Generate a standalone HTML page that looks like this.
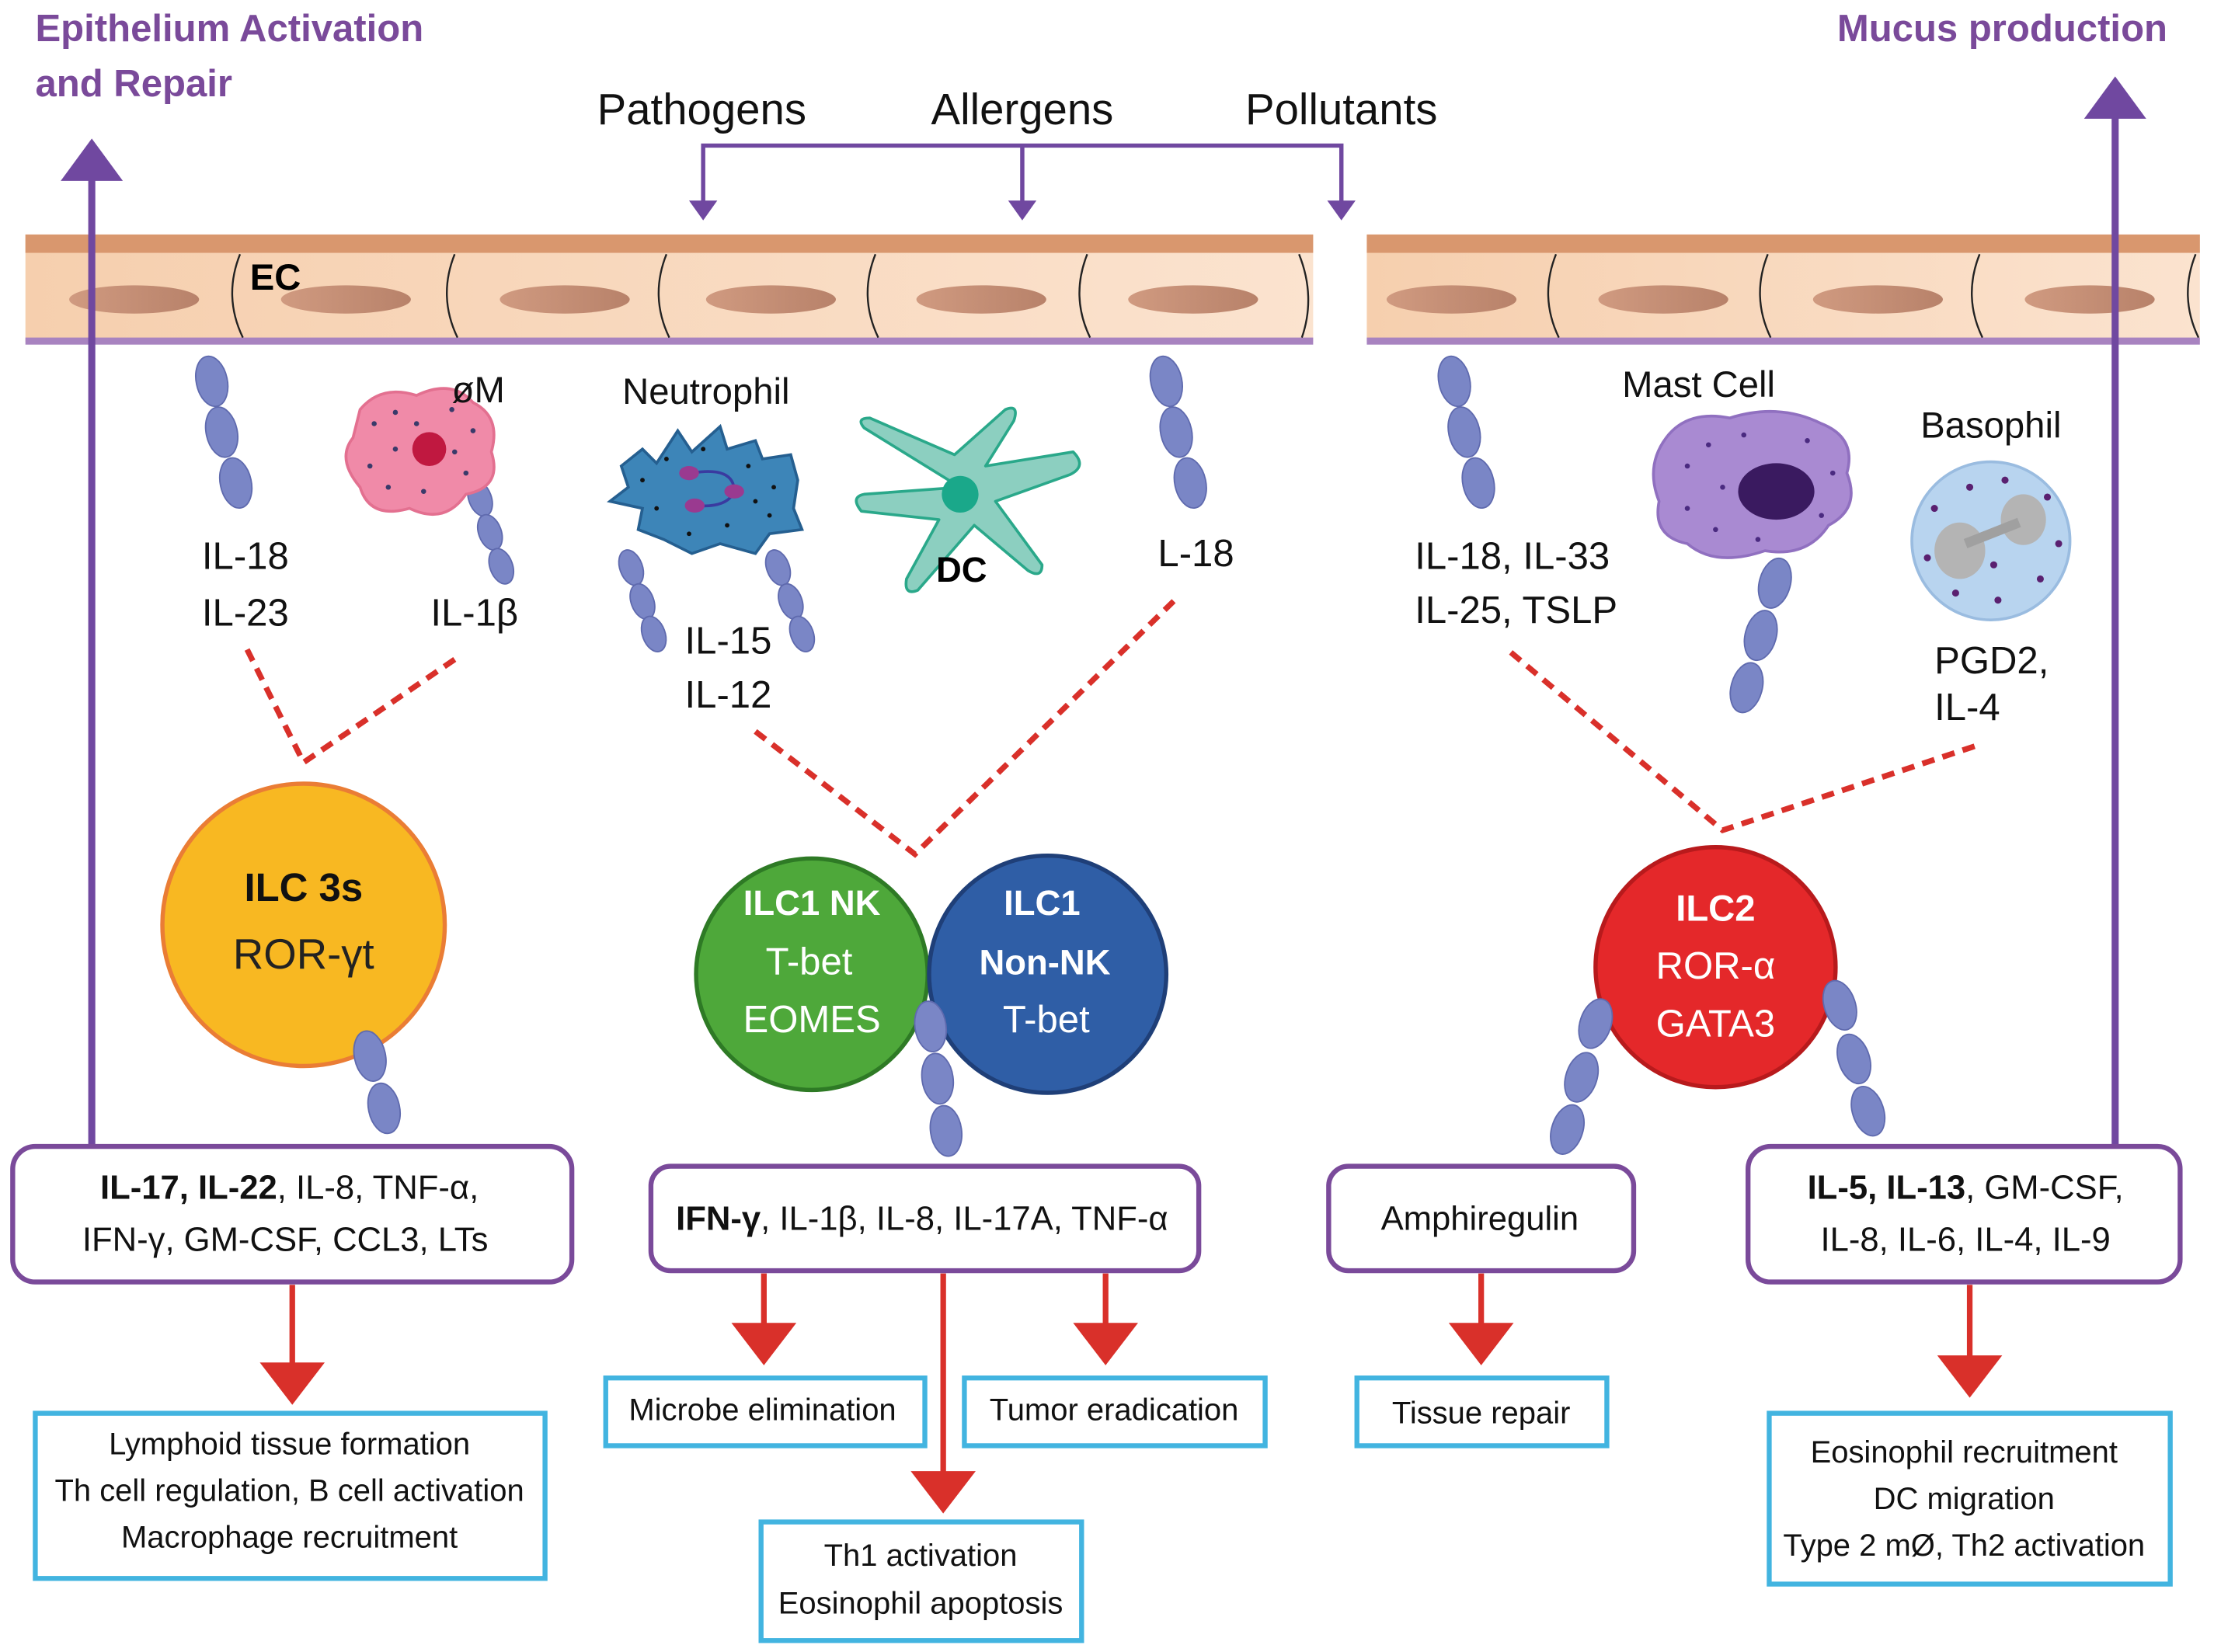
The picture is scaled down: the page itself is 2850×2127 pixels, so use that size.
<!DOCTYPE html>
<html><head><meta charset="utf-8"><style>html,body{margin:0;padding:0;background:#fff}svg{display:block}</style></head><body>
<svg width="2850" height="2127" viewBox="0 0 1568 1170" xmlns="http://www.w3.org/2000/svg" font-family="'Liberation Sans',sans-serif">
<defs>
<linearGradient id="cell" x1="0" y1="0" x2="1" y2="0"><stop offset="0" stop-color="#f6cfae"/><stop offset="1" stop-color="#fbe3cf"/></linearGradient>
<linearGradient id="nuc" x1="0" y1="0" x2="1" y2="0"><stop offset="0" stop-color="#d09a80"/><stop offset="1" stop-color="#b8826a"/></linearGradient>
</defs>
<rect width="1568" height="1170" fill="#fff"/>
<rect x="18" y="166" width="912" height="76" fill="url(#cell)"/>
<rect x="18" y="166" width="912" height="13" fill="#d9976e"/>
<rect x="18" y="239" width="912" height="5" fill="#a883c0"/>
<rect x="968" y="166" width="590" height="76" fill="url(#cell)"/>
<rect x="968" y="166" width="590" height="13" fill="#d9976e"/>
<rect x="968" y="239" width="590" height="5" fill="#a883c0"/>
<g stroke="#222" stroke-width="1.3" fill="none">
<path d="M170 180 Q158 210 172 239"/><path d="M322 180 Q310 210 324 239"/><path d="M472 180 Q460 210 474 239"/><path d="M620 180 Q608 210 622 239"/><path d="M770 180 Q758 210 772 239"/><path d="M920 180 Q932 210 922 239"/>
<path d="M1102 180 Q1090 210 1104 239"/><path d="M1252 180 Q1240 210 1254 239"/><path d="M1402 180 Q1390 210 1404 239"/><path d="M1555 180 Q1543 210 1557 239"/>
</g>
<g fill="url(#nuc)">
<ellipse cx="95" cy="212" rx="46" ry="10"/><ellipse cx="245" cy="212" rx="46" ry="10"/><ellipse cx="400" cy="212" rx="46" ry="10"/><ellipse cx="546" cy="212" rx="46" ry="10"/><ellipse cx="695" cy="212" rx="46" ry="10"/><ellipse cx="845" cy="212" rx="46" ry="10"/>
<ellipse cx="1028" cy="212" rx="46" ry="10"/><ellipse cx="1178" cy="212" rx="46" ry="10"/><ellipse cx="1330" cy="212" rx="46" ry="10"/><ellipse cx="1480" cy="212" rx="46" ry="10"/>
</g>
<text x="177" y="205" font-size="26" font-weight="bold" fill="#000">EC</text>
<g fill="#7a4a9a" font-weight="bold" font-size="27">
<text x="25" y="29">Epithelium Activation</text><text x="25" y="68">and Repair</text>
<text x="1535" y="29" text-anchor="end">Mucus production</text>
</g>
<g stroke="#7048a0" stroke-width="5" fill="#7048a0">
<line x1="65" y1="812" x2="65" y2="125"/><line x1="1498" y1="812" x2="1498" y2="80"/>
</g>
<polygon points="43,128 65,98 87,128" fill="#7048a0"/>
<polygon points="1476,84 1498,54 1520,84" fill="#7048a0"/>
<g font-size="31" fill="#111" text-anchor="middle"><text x="497" y="88">Pathogens</text><text x="724" y="88">Allergens</text><text x="950" y="88">Pollutants</text></g>
<g stroke="#7048a0" stroke-width="3" fill="none"><path d="M498 145 V103 H950 V145"/><line x1="724" y1="103" x2="724" y2="145"/></g>
<g fill="#7048a0"><polygon points="488,142 498,156 508,142"/><polygon points="714,142 724,156 734,142"/><polygon points="940,142 950,156 960,142"/></g>
<g fill="#7a86c6" stroke="#5f6aae" stroke-width="1">
<ellipse cx="150" cy="270" rx="11" ry="18" transform="rotate(-12 150 270)"/><ellipse cx="157" cy="306" rx="11" ry="18" transform="rotate(-12 157 306)"/><ellipse cx="167" cy="342" rx="11" ry="18" transform="rotate(-12 167 342)"/>
<ellipse cx="340" cy="353" rx="8" ry="13" transform="rotate(-20 340 353)"/><ellipse cx="347" cy="377" rx="8" ry="13" transform="rotate(-20 347 377)"/><ellipse cx="355" cy="401" rx="8" ry="13" transform="rotate(-20 355 401)"/>
<ellipse cx="447" cy="402" rx="8" ry="13" transform="rotate(-20 447 402)"/><ellipse cx="455" cy="426" rx="8" ry="13" transform="rotate(-20 455 426)"/><ellipse cx="463" cy="449" rx="8" ry="13" transform="rotate(-20 463 449)"/>
<ellipse cx="551" cy="402" rx="8" ry="13" transform="rotate(-20 551 402)"/><ellipse cx="560" cy="426" rx="8" ry="13" transform="rotate(-20 560 426)"/><ellipse cx="568" cy="449" rx="8" ry="13" transform="rotate(-20 568 449)"/>
<ellipse cx="826" cy="270" rx="11" ry="18" transform="rotate(-12 826 270)"/><ellipse cx="833" cy="306" rx="11" ry="18" transform="rotate(-12 833 306)"/><ellipse cx="843" cy="342" rx="11" ry="18" transform="rotate(-12 843 342)"/>
<ellipse cx="1030" cy="270" rx="11" ry="18" transform="rotate(-12 1030 270)"/><ellipse cx="1037" cy="306" rx="11" ry="18" transform="rotate(-12 1037 306)"/><ellipse cx="1047" cy="342" rx="11" ry="18" transform="rotate(-12 1047 342)"/>
<ellipse cx="1257" cy="413" rx="11" ry="18" transform="rotate(15 1257 413)"/><ellipse cx="1247" cy="450" rx="11" ry="18" transform="rotate(15 1247 450)"/><ellipse cx="1237" cy="487" rx="11" ry="18" transform="rotate(15 1237 487)"/>
</g>
<path d="M255 290 Q270 272 295 280 Q320 268 335 285 Q355 295 348 320 Q356 345 330 350 Q315 372 290 360 Q262 368 255 345 Q238 325 250 310 Z" fill="#f08aa8" stroke="#e37090" stroke-width="2"/>
<circle cx="304" cy="318" r="12" fill="#c01840"/>
<g fill="#3a3a6a"><circle cx="265" cy="300" r="1.8"/><circle cx="280" cy="292" r="1.8"/><circle cx="320" cy="290" r="1.8"/><circle cx="335" cy="305" r="1.8"/><circle cx="262" cy="330" r="1.8"/><circle cx="275" cy="345" r="1.8"/><circle cx="300" cy="348" r="1.8"/><circle cx="330" cy="335" r="1.8"/><circle cx="280" cy="318" r="1.8"/><circle cx="322" cy="320" r="1.8"/><circle cx="295" cy="300" r="1.8"/></g>
<text x="320" y="285" font-size="26" fill="#111">øM</text>
<path d="M440 330 L455 318 L465 328 L480 305 L490 320 L510 302 L515 318 L535 312 L540 325 L560 322 L565 340 L562 360 L568 375 L545 378 L535 392 L510 385 L490 392 L470 382 L452 375 L455 360 L432 355 L445 345 Z" fill="#3d85b8" stroke="#255f90" stroke-width="2"/>
<path d="M490 335 Q520 330 520 348 Q515 360 492 358" stroke="#3a3aa0" stroke-width="2" fill="none"/>
<g fill="#9a3a90"><ellipse cx="488" cy="335" rx="7" ry="5"/><ellipse cx="520" cy="348" rx="7" ry="5"/><ellipse cx="492" cy="358" rx="7" ry="5"/></g>
<g fill="#111"><circle cx="455" cy="340" r="1.6"/><circle cx="472" cy="325" r="1.6"/><circle cx="498" cy="318" r="1.6"/><circle cx="530" cy="330" r="1.6"/><circle cx="548" cy="345" r="1.6"/><circle cx="545" cy="365" r="1.6"/><circle cx="515" cy="372" r="1.6"/><circle cx="488" cy="378" r="1.6"/><circle cx="465" cy="360" r="1.6"/><circle cx="535" cy="355" r="1.6"/></g>
<text x="500" y="286" font-size="26" fill="#111" text-anchor="middle">Neutrophil</text>
<g fill="#8ccfc0" stroke="#2aa88a" stroke-width="2" stroke-linejoin="round">
<path d="M680 345 L612 303 Q606 296 616 296 L676 322 L712 290 Q722 286 718 298 L698 330 L760 320 Q770 330 758 336 L705 355 L738 400 Q738 410 728 404 L690 372 L650 418 Q640 422 642 410 L665 368 L610 362 Q602 352 612 350 Z"/>
</g>
<circle cx="680" cy="350" r="13" fill="#1aa88a"/>
<text x="681" y="412" font-size="25" font-weight="bold" fill="#000" text-anchor="middle">DC</text>
<path d="M1180 310 Q1195 290 1225 296 Q1260 285 1290 300 Q1315 310 1308 335 Q1318 360 1295 372 Q1280 395 1250 390 Q1215 402 1195 385 Q1170 380 1175 355 Q1165 330 1180 310 Z" fill="#a98ad2" stroke="#9070c0" stroke-width="2"/>
<ellipse cx="1258" cy="348" rx="27" ry="20" fill="#3a1a60"/>
<g fill="#4a2a80"><circle cx="1195" cy="330" r="1.8"/><circle cx="1210" cy="315" r="1.8"/><circle cx="1235" cy="308" r="1.8"/><circle cx="1280" cy="312" r="1.8"/><circle cx="1298" cy="335" r="1.8"/><circle cx="1195" cy="360" r="1.8"/><circle cx="1215" cy="375" r="1.8"/><circle cx="1245" cy="382" r="1.8"/><circle cx="1290" cy="365" r="1.8"/><circle cx="1220" cy="345" r="1.8"/></g>
<text x="1203" y="281" font-size="26" fill="#111" text-anchor="middle">Mast Cell</text>
<circle cx="1410" cy="383" r="56" fill="#b8d4ef" stroke="#9abce0" stroke-width="2"/>
<ellipse cx="1388" cy="390" rx="18" ry="20" fill="#b4b4b4"/><ellipse cx="1433" cy="368" rx="16" ry="18" fill="#b4b4b4"/><line x1="1392" y1="385" x2="1430" y2="370" stroke="#a0a0a0" stroke-width="7"/>
<g fill="#5a2070"><circle cx="1370" cy="360" r="2.5"/><circle cx="1395" cy="345" r="2.5"/><circle cx="1420" cy="340" r="2.5"/><circle cx="1450" cy="352" r="2.5"/><circle cx="1458" cy="385" r="2.5"/><circle cx="1445" cy="410" r="2.5"/><circle cx="1415" cy="425" r="2.5"/><circle cx="1385" cy="420" r="2.5"/><circle cx="1365" cy="395" r="2.5"/><circle cx="1412" cy="400" r="2.5"/></g>
<text x="1410" y="310" font-size="26" fill="#111" text-anchor="middle">Basophil</text>
<g font-size="27" fill="#111">
<text x="143" y="403">IL-18</text><text x="143" y="443">IL-23</text><text x="305" y="443">IL-1β</text>
<text x="485" y="463">IL-15</text><text x="485" y="501">IL-12</text>
<text x="820" y="401">L-18</text>
<text x="1002" y="403">IL-18, IL-33</text><text x="1002" y="441">IL-25, TSLP</text>
<text x="1370" y="477">PGD2,</text><text x="1370" y="510">IL-4</text>
</g>
<g stroke="#d9302a" stroke-width="4" stroke-dasharray="9,6" fill="none">
<path d="M175 460 L215 540 L325 465"/><path d="M535 518 L648 605 L835 422"/><path d="M1070 462 L1220 588 L1400 528"/>
</g>
<circle cx="215" cy="655" r="100" fill="#f8b822" stroke="#ea7d35" stroke-width="3"/>
<text x="215" y="638" font-size="28" font-weight="bold" text-anchor="middle" fill="#111">ILC 3s</text>
<text x="215" y="686" font-size="30" text-anchor="middle" fill="#222">ROR-γt</text>
<circle cx="575" cy="690" r="82" fill="#4ea83a" stroke="#2e7a25" stroke-width="3"/>
<circle cx="742" cy="690" r="84" fill="#2f5ea6" stroke="#1f3f78" stroke-width="3"/>
<g fill="#fff" text-anchor="middle">
<text x="575" y="648" font-size="25" font-weight="bold">ILC1  NK</text><text x="573" y="690" font-size="27">T-bet</text><text x="575" y="731" font-size="27">EOMES</text>
<text x="738" y="648" font-size="25" font-weight="bold">ILC1</text><text x="740" y="690" font-size="25" font-weight="bold">Non-NK</text><text x="741" y="731" font-size="27">T-bet</text>
</g>
<circle cx="1215" cy="685" r="85" fill="#e4282a" stroke="#b81a1c" stroke-width="3"/>
<g fill="#fff" text-anchor="middle"><text x="1215" y="652" font-size="26" font-weight="bold">ILC2</text><text x="1215" y="693" font-size="27">ROR-α</text><text x="1215" y="734" font-size="27">GATA3</text></g>
<g fill="#7a86c6" stroke="#5f6aae" stroke-width="1">
<ellipse cx="262" cy="748" rx="11" ry="18" transform="rotate(-12 262 748)"/><ellipse cx="272" cy="785" rx="11" ry="18" transform="rotate(-12 272 785)"/>
<ellipse cx="659" cy="727" rx="11" ry="18" transform="rotate(-8 659 727)"/><ellipse cx="664" cy="764" rx="11" ry="18" transform="rotate(-8 664 764)"/><ellipse cx="670" cy="801" rx="11" ry="18" transform="rotate(-8 670 801)"/>
<ellipse cx="1130" cy="725" rx="11" ry="18" transform="rotate(18 1130 725)"/><ellipse cx="1120" cy="763" rx="11" ry="18" transform="rotate(18 1120 763)"/><ellipse cx="1110" cy="800" rx="11" ry="18" transform="rotate(18 1110 800)"/>
<ellipse cx="1303" cy="712" rx="11" ry="18" transform="rotate(-18 1303 712)"/><ellipse cx="1313" cy="750" rx="11" ry="18" transform="rotate(-18 1313 750)"/><ellipse cx="1323" cy="787" rx="11" ry="18" transform="rotate(-18 1323 787)"/>
</g>
<g fill="#fff" stroke="#7a4a9a" stroke-width="3.5">
<rect x="9" y="812" width="396" height="96" rx="16"/><rect x="461" y="826" width="388" height="74" rx="14"/>
<rect x="941" y="826" width="216" height="74" rx="14"/><rect x="1238" y="812" width="306" height="96" rx="16"/>
</g>
<g font-size="24" fill="#111" text-anchor="middle">
<text x="205" y="849"><tspan font-weight="bold">IL-17, IL-22</tspan>, IL-8, TNF-α,</text>
<text x="202" y="886">IFN-γ, GM-CSF, CCL3, LTs</text>
<text x="653" y="871"><tspan font-weight="bold">IFN-γ</tspan>, IL-1β, IL-8, IL-17A, TNF-α</text>
<text x="1048" y="871">Amphiregulin</text>
<text x="1392" y="849"><tspan font-weight="bold">IL-5, IL-13</tspan>, GM-CSF,</text>
<text x="1392" y="886">IL-8, IL-6, IL-4, IL-9</text>
</g>
<g stroke="#d9302a" stroke-width="4"><line x1="207" y1="910" x2="207" y2="968"/><line x1="541" y1="902" x2="541" y2="940"/><line x1="668" y1="902" x2="668" y2="1045"/><line x1="783" y1="902" x2="783" y2="940"/><line x1="1049" y1="902" x2="1049" y2="940"/><line x1="1395" y1="910" x2="1395" y2="962"/></g>
<g fill="#d9302a"><polygon points="184,965 230,965 207,995"/><polygon points="518,937 564,937 541,967"/><polygon points="645,1042 691,1042 668,1072"/><polygon points="760,937 806,937 783,967"/><polygon points="1026,937 1072,937 1049,967"/><polygon points="1372,960 1418,960 1395,990"/></g>
<g fill="#fff" stroke="#42b4e0" stroke-width="3.5">
<rect x="25" y="1001" width="361" height="117"/><rect x="429" y="976" width="226" height="48"/><rect x="683" y="976" width="213" height="48"/>
<rect x="539" y="1078" width="227" height="84"/><rect x="961" y="976" width="177" height="48"/><rect x="1253" y="1001" width="284" height="121"/>
</g>
<g font-size="22" fill="#111" text-anchor="middle">
<text x="205" y="1030">Lymphoid tissue formation</text><text x="205" y="1063">Th cell regulation, B cell activation</text><text x="205" y="1096">Macrophage recruitment</text>
<text x="540" y="1006">Microbe elimination</text><text x="789" y="1006">Tumor eradication</text>
<text x="652" y="1109">Th1 activation</text><text x="652" y="1143">Eosinophil apoptosis</text>
<text x="1049" y="1008">Tissue repair</text>
<text x="1391" y="1036">Eosinophil recruitment</text><text x="1391" y="1069">DC migration</text><text x="1391" y="1102">Type 2 mØ, Th2 activation</text>
</g>
</svg>
</body></html>
